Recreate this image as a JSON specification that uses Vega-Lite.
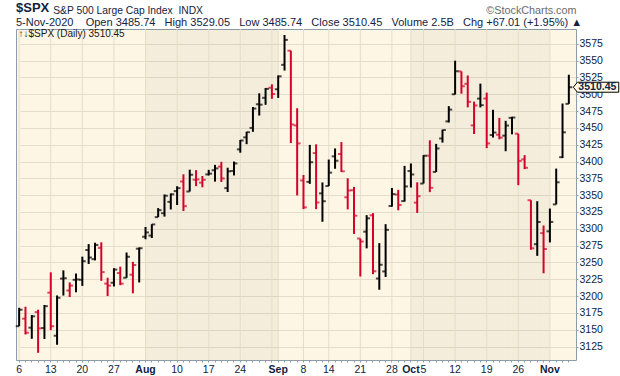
{
  "$schema": "https://vega.github.io/schema/vega-lite/v6.json",
  "width": 560,
  "height": 331,
  "autosize": {"type": "none"},
  "padding": {"left": 16, "top": 29, "right": 44, "bottom": 16},
  "background": "white",
  "config": {
    "font": "Liberation Sans",
    "view": {"fill": "#fdf6e4", "stroke": "#8c9ca8", "strokeWidth": 1}
  },
  "title": {
    "text": "$SPX",
    "subtitle": "5-Nov-2020\u00a0\u00a0\u00a0\u00a0Open 3485.74\u00a0\u00a0\u00a0High 3529.05\u00a0\u00a0\u00a0Low 3485.74\u00a0\u00a0\u00a0Close 3510.45\u00a0\u00a0\u00a0Volume 2.5B\u00a0\u00a0\u00a0Chg +67.01 (+1.95%)\u00a0▲",
    "anchor": "start",
    "frame": "group",
    "font": "Liberation Sans",
    "fontSize": 13,
    "fontWeight": "bold",
    "color": "#13233f",
    "subtitleFont": "Liberation Sans",
    "subtitleFontSize": 11,
    "subtitleColor": "#13233f",
    "subtitlePadding": 1.5,
    "offset": 1,
    "dy": 24.5
  },
  "data": {
    "values": [
      {"d": "2020-07-06", "o": 3155.29, "h": 3182.59, "l": 3155.29, "c": 3179.72},
      {"d": "2020-07-07", "o": 3166.44, "h": 3184.15, "l": 3142.93, "c": 3145.32},
      {"d": "2020-07-08", "o": 3153.07, "h": 3171.80, "l": 3136.53, "c": 3169.94},
      {"d": "2020-07-09", "o": 3176.17, "h": 3179.78, "l": 3115.70, "c": 3152.05},
      {"d": "2020-07-10", "o": 3152.47, "h": 3186.82, "l": 3136.22, "c": 3185.04},
      {"d": "2020-07-13", "o": 3205.08, "h": 3235.32, "l": 3149.43, "c": 3155.22},
      {"d": "2020-07-14", "o": 3141.11, "h": 3200.95, "l": 3127.66, "c": 3197.52},
      {"d": "2020-07-15", "o": 3225.98, "h": 3238.28, "l": 3200.76, "c": 3226.56},
      {"d": "2020-07-16", "o": 3208.36, "h": 3220.39, "l": 3198.59, "c": 3215.57},
      {"d": "2020-07-17", "o": 3224.21, "h": 3233.52, "l": 3205.65, "c": 3224.73},
      {"d": "2020-07-20", "o": 3224.29, "h": 3258.61, "l": 3215.16, "c": 3251.84},
      {"d": "2020-07-21", "o": 3268.52, "h": 3277.29, "l": 3247.77, "c": 3257.30},
      {"d": "2020-07-22", "o": 3254.86, "h": 3279.32, "l": 3253.10, "c": 3276.02},
      {"d": "2020-07-23", "o": 3271.64, "h": 3279.99, "l": 3222.66, "c": 3235.66},
      {"d": "2020-07-24", "o": 3218.58, "h": 3227.26, "l": 3200.05, "c": 3215.63},
      {"d": "2020-07-27", "o": 3219.84, "h": 3241.43, "l": 3214.25, "c": 3239.41},
      {"d": "2020-07-28", "o": 3234.27, "h": 3243.72, "l": 3216.17, "c": 3218.44},
      {"d": "2020-07-29", "o": 3227.22, "h": 3264.74, "l": 3227.22, "c": 3258.44},
      {"d": "2020-07-30", "o": 3231.76, "h": 3250.92, "l": 3204.13, "c": 3246.22},
      {"d": "2020-07-31", "o": 3270.45, "h": 3272.17, "l": 3220.26, "c": 3271.12},
      {"d": "2020-08-03", "o": 3288.26, "h": 3302.73, "l": 3284.53, "c": 3294.61},
      {"d": "2020-08-04", "o": 3289.92, "h": 3306.84, "l": 3286.37, "c": 3306.51},
      {"d": "2020-08-05", "o": 3317.37, "h": 3330.77, "l": 3317.37, "c": 3327.77},
      {"d": "2020-08-06", "o": 3323.17, "h": 3351.03, "l": 3318.14, "c": 3349.16},
      {"d": "2020-08-07", "o": 3340.05, "h": 3352.54, "l": 3328.72, "c": 3351.28},
      {"d": "2020-08-10", "o": 3356.04, "h": 3363.29, "l": 3335.44, "c": 3360.47},
      {"d": "2020-08-11", "o": 3370.34, "h": 3381.01, "l": 3326.44, "c": 3333.69},
      {"d": "2020-08-12", "o": 3355.46, "h": 3387.89, "l": 3355.46, "c": 3380.35},
      {"d": "2020-08-13", "o": 3372.95, "h": 3387.24, "l": 3363.35, "c": 3373.43},
      {"d": "2020-08-14", "o": 3368.66, "h": 3378.51, "l": 3361.64, "c": 3372.85},
      {"d": "2020-08-17", "o": 3380.86, "h": 3387.59, "l": 3379.22, "c": 3381.99},
      {"d": "2020-08-18", "o": 3387.04, "h": 3395.06, "l": 3370.15, "c": 3389.78},
      {"d": "2020-08-19", "o": 3392.51, "h": 3399.54, "l": 3369.66, "c": 3374.85},
      {"d": "2020-08-20", "o": 3360.48, "h": 3390.80, "l": 3354.69, "c": 3385.51},
      {"d": "2020-08-21", "o": 3386.01, "h": 3399.96, "l": 3379.31, "c": 3397.16},
      {"d": "2020-08-24", "o": 3418.09, "h": 3432.09, "l": 3413.13, "c": 3431.28},
      {"d": "2020-08-25", "o": 3435.95, "h": 3444.21, "l": 3425.84, "c": 3443.62},
      {"d": "2020-08-26", "o": 3449.97, "h": 3481.07, "l": 3444.15, "c": 3478.73},
      {"d": "2020-08-27", "o": 3485.14, "h": 3501.38, "l": 3468.35, "c": 3484.55},
      {"d": "2020-08-28", "o": 3494.69, "h": 3509.23, "l": 3484.32, "c": 3508.01},
      {"d": "2020-08-31", "o": 3509.73, "h": 3514.77, "l": 3493.25, "c": 3500.31},
      {"d": "2020-09-01", "o": 3507.44, "h": 3528.03, "l": 3494.60, "c": 3526.65},
      {"d": "2020-09-02", "o": 3543.76, "h": 3588.11, "l": 3535.23, "c": 3580.84},
      {"d": "2020-09-03", "o": 3564.74, "h": 3564.85, "l": 3427.41, "c": 3455.06},
      {"d": "2020-09-04", "o": 3453.60, "h": 3479.15, "l": 3349.63, "c": 3426.96},
      {"d": "2020-09-08", "o": 3371.88, "h": 3379.97, "l": 3329.27, "c": 3331.84},
      {"d": "2020-09-09", "o": 3369.82, "h": 3424.77, "l": 3366.84, "c": 3398.96},
      {"d": "2020-09-10", "o": 3412.56, "h": 3425.55, "l": 3329.25, "c": 3339.19},
      {"d": "2020-09-11", "o": 3352.70, "h": 3368.95, "l": 3310.47, "c": 3340.97},
      {"d": "2020-09-14", "o": 3363.56, "h": 3402.93, "l": 3363.56, "c": 3383.54},
      {"d": "2020-09-15", "o": 3407.73, "h": 3419.48, "l": 3389.25, "c": 3401.20},
      {"d": "2020-09-16", "o": 3411.23, "h": 3428.92, "l": 3384.45, "c": 3385.49},
      {"d": "2020-09-17", "o": 3346.86, "h": 3375.17, "l": 3328.82, "c": 3357.01},
      {"d": "2020-09-18", "o": 3357.38, "h": 3362.27, "l": 3292.40, "c": 3319.47},
      {"d": "2020-09-21", "o": 3285.57, "h": 3285.57, "l": 3229.10, "c": 3281.06},
      {"d": "2020-09-22", "o": 3295.75, "h": 3320.31, "l": 3270.95, "c": 3315.57},
      {"d": "2020-09-23", "o": 3320.11, "h": 3323.35, "l": 3232.57, "c": 3236.92},
      {"d": "2020-09-24", "o": 3226.14, "h": 3278.70, "l": 3209.45, "c": 3246.59},
      {"d": "2020-09-25", "o": 3236.66, "h": 3306.88, "l": 3228.44, "c": 3298.46},
      {"d": "2020-09-28", "o": 3333.90, "h": 3360.74, "l": 3332.91, "c": 3351.60},
      {"d": "2020-09-29", "o": 3350.92, "h": 3357.92, "l": 3327.54, "c": 3335.47},
      {"d": "2020-09-30", "o": 3341.21, "h": 3393.56, "l": 3340.47, "c": 3363.00},
      {"d": "2020-10-01", "o": 3385.87, "h": 3397.18, "l": 3361.39, "c": 3380.80},
      {"d": "2020-10-02", "o": 3338.94, "h": 3369.10, "l": 3323.69, "c": 3348.42},
      {"d": "2020-10-05", "o": 3367.27, "h": 3409.57, "l": 3367.27, "c": 3408.60},
      {"d": "2020-10-06", "o": 3408.74, "h": 3431.56, "l": 3354.54, "c": 3360.97},
      {"d": "2020-10-07", "o": 3384.56, "h": 3426.26, "l": 3384.56, "c": 3419.44},
      {"d": "2020-10-08", "o": 3434.28, "h": 3447.28, "l": 3428.15, "c": 3446.83},
      {"d": "2020-10-09", "o": 3459.67, "h": 3482.34, "l": 3458.07, "c": 3477.14},
      {"d": "2020-10-12", "o": 3500.02, "h": 3549.85, "l": 3499.61, "c": 3534.22},
      {"d": "2020-10-13", "o": 3534.01, "h": 3534.01, "l": 3500.86, "c": 3511.93},
      {"d": "2020-10-14", "o": 3515.47, "h": 3527.94, "l": 3480.55, "c": 3488.67},
      {"d": "2020-10-15", "o": 3453.72, "h": 3489.08, "l": 3440.89, "c": 3483.34},
      {"d": "2020-10-16", "o": 3493.50, "h": 3515.76, "l": 3480.45, "c": 3483.81},
      {"d": "2020-10-19", "o": 3493.66, "h": 3502.42, "l": 3419.93, "c": 3426.92},
      {"d": "2020-10-20", "o": 3439.38, "h": 3476.93, "l": 3435.65, "c": 3443.12},
      {"d": "2020-10-21", "o": 3439.91, "h": 3464.86, "l": 3433.06, "c": 3435.56},
      {"d": "2020-10-22", "o": 3438.50, "h": 3460.53, "l": 3415.34, "c": 3453.49},
      {"d": "2020-10-23", "o": 3464.90, "h": 3466.46, "l": 3440.45, "c": 3465.39},
      {"d": "2020-10-26", "o": 3441.42, "h": 3441.42, "l": 3364.86, "c": 3400.97},
      {"d": "2020-10-27", "o": 3403.15, "h": 3409.51, "l": 3388.71, "c": 3390.68},
      {"d": "2020-10-28", "o": 3342.48, "h": 3342.48, "l": 3268.89, "c": 3271.03},
      {"d": "2020-10-29", "o": 3277.17, "h": 3341.05, "l": 3259.82, "c": 3310.11},
      {"d": "2020-10-30", "o": 3293.59, "h": 3304.93, "l": 3233.94, "c": 3269.96},
      {"d": "2020-11-02", "o": 3296.20, "h": 3330.14, "l": 3279.74, "c": 3310.24},
      {"d": "2020-11-03", "o": 3336.25, "h": 3389.49, "l": 3336.25, "c": 3369.16},
      {"d": "2020-11-04", "o": 3406.46, "h": 3486.25, "l": 3405.17, "c": 3443.44},
      {"d": "2020-11-05", "o": 3485.74, "h": 3529.05, "l": 3485.74, "c": 3510.45}
    ]
  },
  "transform": [
    {"window": [{"op": "lag", "field": "c", "as": "pc"}], "sort": [{"field": "d", "order": "ascending"}]}
  ],
  "encoding": {
    "x": {
      "field": "d",
      "type": "ordinal",
      "scale": {"type": "band", "range": [0, 556], "paddingInner": 0, "paddingOuter": 0},
      "axis": {
        "bandPosition": 0.5,
        "domain": false,
        "grid": false,
        "ticks": true,
        "tickSize": 2,
        "tickColor": "#8c9ca8",
        "tickWidth": 1,
        "labelAngle": 0,
        "labelOverlap": false,
        "labelPadding": 2,
        "labelFont": "Liberation Sans",
        "labelFontSize": 10.5,
        "labelColor": "#0f2340",
        "labelFontWeight": {"condition": {"test": "indexof(['2020-08-03','2020-09-01','2020-10-01','2020-11-02'], datum.value) >= 0", "value": "bold"}, "value": "normal"},
        "labelExpr": "datum.value == '2020-08-03' ? 'Aug' : datum.value == '2020-09-01' ? 'Sep' : datum.value == '2020-10-01' ? 'Oct' : datum.value == '2020-11-02' ? 'Nov' : (indexof(['2020-07-06','2020-07-13','2020-07-20','2020-07-27','2020-08-10','2020-08-17','2020-08-24','2020-09-08','2020-09-14','2020-09-21','2020-09-28','2020-10-05','2020-10-12','2020-10-19','2020-10-26'], datum.value) >= 0 ? '' + toNumber(substring(datum.value, 8, 10)) : '')",
        "title": "↑↓$SPX (Daily) 3510.45",
        "titleX": 2,
        "titleY": -323.3,
        "titleAlign": "left",
        "titleAnchor": "start",
        "titleBaseline": "alphabetic",
        "titleFont": "Liberation Sans",
        "titleFontSize": 10,
        "titleFontWeight": "normal",
        "titleColor": "#1a1a1a"
      }
    }
  },
  "layer": [
    {
      "transform": [{"filter": "substring(datum.d, 5, 7) == '08' || substring(datum.d, 5, 7) == '10'"}],
      "mark": {"type": "rect", "xOffset": 3.16, "color": "#000000", "opacity": 0.035},
      "encoding": {}
    },
    {
      "transform": [{"filter": "indexof(['2020-07-06','2020-07-13','2020-07-20','2020-07-27','2020-08-03','2020-08-10','2020-08-17','2020-08-24','2020-08-31','2020-09-01','2020-09-08','2020-09-14','2020-09-21','2020-09-28','2020-10-01','2020-10-05','2020-10-12','2020-10-19','2020-10-26','2020-11-02'], datum.d) >= 0"}],
      "mark": {"type": "rule", "color": "#e4ddca", "strokeWidth": 1},
      "encoding": {}
    },
    {
      "mark": {"type": "rule", "strokeWidth": 2},
      "encoding": {
        "y": {
          "field": "h",
          "type": "quantitative",
          "scale": {"domain": [3105, 3597], "nice": false, "zero": false},
          "axis": {
            "orient": "right",
            "values": [3125, 3150, 3175, 3200, 3225, 3250, 3275, 3300, 3325, 3350, 3375, 3400, 3425, 3450, 3475, 3500, 3525, 3550, 3575],
            "format": "d",
            "domain": false,
            "grid": true,
            "gridColor": "#e4ddca",
            "gridWidth": 1,
            "tickSize": 2,
            "tickColor": "#8c9ca8",
            "labelPadding": 1,
            "labelFont": "Liberation Sans",
            "labelFontSize": 10.5,
            "labelColor": "#0f2340",
            "title": "©StockCharts.com",
            "titleAngle": 0,
            "titleX": 0,
            "titleY": -15.7,
            "titleAlign": "right",
            "titleBaseline": "alphabetic",
            "titleFont": "Liberation Sans",
            "titleFontSize": 10.8,
            "titleFontWeight": "normal",
            "titleColor": "#6a6a6a"
          }
        },
        "y2": {"field": "l"},
        "color": {"condition": {"test": "datum.pc != null && datum.c < datum.pc", "value": "#d4002a"}, "value": "#000000"}
      }
    },
    {
      "mark": {"type": "tick", "orient": "horizontal", "size": 3.4, "thickness": 2, "xOffset": -1.7},
      "encoding": {
        "y": {"field": "o", "type": "quantitative", "axis": null},
        "color": {"condition": {"test": "datum.pc != null && datum.c < datum.pc", "value": "#d4002a"}, "value": "#000000"}
      }
    },
    {
      "mark": {"type": "tick", "orient": "horizontal", "size": 3.4, "thickness": 2, "xOffset": 1.7},
      "encoding": {
        "y": {"field": "c", "type": "quantitative", "axis": null},
        "color": {"condition": {"test": "datum.pc != null && datum.c < datum.pc", "value": "#d4002a"}, "value": "#000000"}
      }
    },
    {
      "transform": [{"filter": "datum.d == '2020-11-05'"}],
      "mark": {"type": "point", "shape": "M-1,0L-0.82,-0.22L1,-0.22L1,0.22L-0.82,0.22Z", "size": 2061, "filled": true, "fill": "#fffbe6", "stroke": "#000000", "strokeWidth": 1, "opacity": 1, "xOffset": 27.2},
      "encoding": {
        "y": {
          "field": "c",
          "type": "quantitative",
          "axis": {
            "orient": "left",
            "labels": false,
            "ticks": false,
            "domain": false,
            "grid": false,
            "title": "S&P 500 Large Cap Index\u00a0\u00a0INDX",
            "titleAngle": 0,
            "titleX": 36.7,
            "titleY": -15.3,
            "titleAlign": "left",
            "titleBaseline": "alphabetic",
            "titleFont": "Liberation Sans",
            "titleFontSize": 10.3,
            "titleFontWeight": "normal",
            "titleColor": "#13233f"
          }
        }
      }
    },
    {
      "transform": [{"filter": "datum.d == '2020-11-05'"}],
      "mark": {"type": "text", "xOffset": 28.5, "align": "center", "baseline": "middle", "font": "Liberation Sans", "fontSize": 10.5, "fontWeight": "bold", "color": "#0f2340"},
      "encoding": {
        "y": {"field": "c", "type": "quantitative", "axis": null},
        "text": {"field": "c", "type": "quantitative", "format": ".2f"}
      }
    }
  ],
  "resolve": {"axis": {"y": "independent"}}
}
